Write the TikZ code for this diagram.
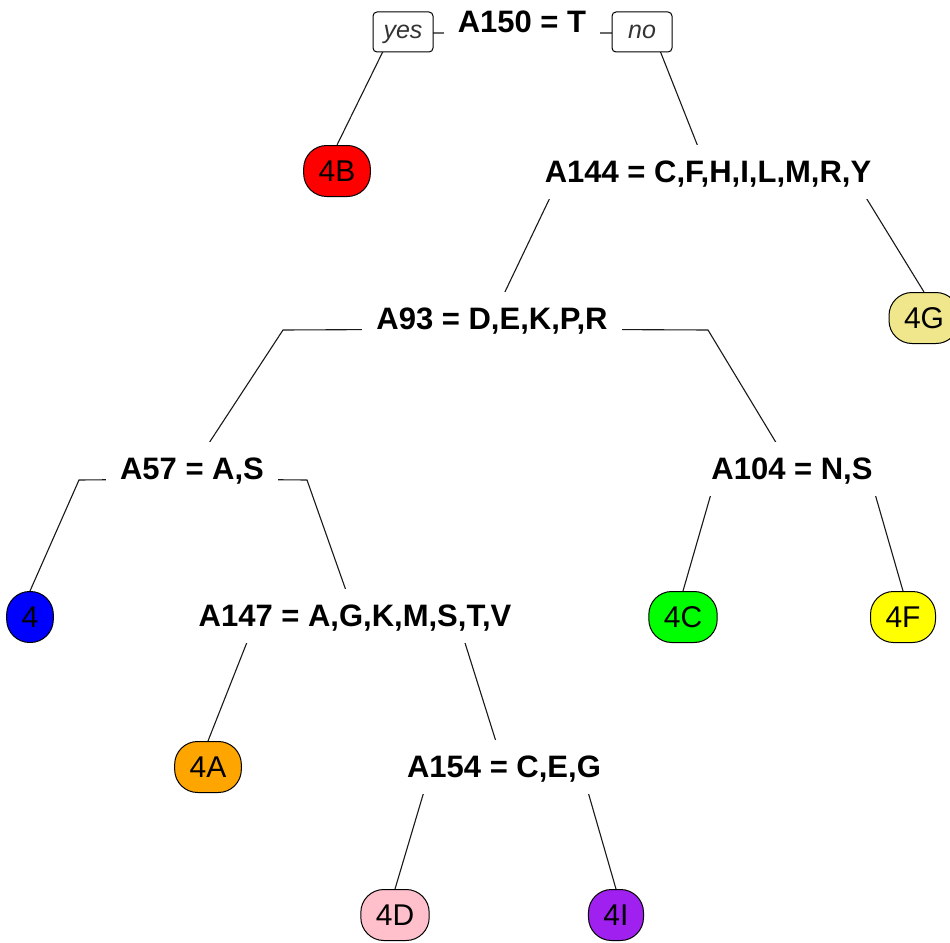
\documentclass[tikz,border=0pt]{standalone}
\usepackage{fontspec}
\setmainfont{Liberation Sans}
\usetikzlibrary{backgrounds}
\definecolor{c4B}{HTML}{FF0000}
\definecolor{c4G}{HTML}{F0E68C}
\definecolor{c4}{HTML}{0000FF}
\definecolor{c4C}{HTML}{00FF00}
\definecolor{c4F}{HTML}{FFFF00}
\definecolor{c4A}{HTML}{FFA500}
\definecolor{c4D}{HTML}{FFC0CB}
\definecolor{c4I}{HTML}{A020F0}
\begin{document}
\begin{tikzpicture}[x=1pt,y=-1pt,
  split/.style={fill=white, font=\fontsize{31}{36}\selectfont\bfseries,
    text height=23pt, text depth=3pt, inner xsep=14pt, inner ysep=14pt, anchor=base},
  leaf/.style={draw=black, line width=1pt, rounded corners=23pt,
    font=\fontsize{30}{36}\selectfont, minimum height=51pt,
    inner xsep=15pt, inner ysep=0pt, text height=21.5pt, text depth=0pt},
  tag/.style={draw=black, fill=white, line width=1pt, rounded corners=4pt,
    minimum width=60pt, minimum height=40pt, inner sep=0pt,
    font=\fontsize{25}{30}\selectfont\itshape, text=black!80,
    text height=17pt, text depth=5pt},
  branch/.style={draw=black!90, line width=1.1pt}]

\useasboundingbox (0,0) rectangle (950,942);
\begin{scope}[on background layer]
  \fill[white] (0,0) rectangle (950,942);
\end{scope}

% split labels
\node[split] (a150) at (522,33)  {A150 = T};
\node[split] (a144) at (708,182) {A144 = C,F,H,I,L,M,R,Y};
\node[split] (a93)  at (492,329) {A93 = D,E,K,P,R};
\node[split] (a57)  at (192,479) {A57 = A,S};
\node[split] (a104) at (792,479) {A104 = N,S};
\node[split] (a147) at (355,626) {A147 = A,G,K,M,S,T,V};
\node[split] (a154) at (504,777) {A154 = C,E,G};

% leaves
\node[leaf, fill=c4B] (l4B) at (337,171) {4B};
\node[leaf, fill=c4G] (l4G) at (924,318) {4G};
\node[leaf, fill=c4]  (l4)  at (30,617)  {4};
\node[leaf, fill=c4C] (l4C) at (683,617) {4C};
\node[leaf, fill=c4F] (l4F) at (903,617) {4F};
\node[leaf, fill=c4A] (l4A) at (208,767) {4A};
\node[leaf, fill=c4D] (l4D) at (395,915) {4D};
\node[leaf, fill=c4I] (l4I) at (616,915) {4I};

% branch bend points
\coordinate (a150L) at (392,33);
\coordinate (a150R) at (653,33);
\coordinate (a144L) at (557,183);
\coordinate (a144R) at (857,183);
\coordinate (a93L)  at (283,330);
\coordinate (a93R)  at (708,330);
\coordinate (a57L)  at (79,480);
\coordinate (a57R)  at (307,480);
\coordinate (a104L) at (715,480);
\coordinate (a104R) at (871,480);
\coordinate (a147L) at (253,627);
\coordinate (a147R) at (460,627);
\coordinate (a154L) at (428,778);
\coordinate (a154R) at (584,778);

% yes / no tags on the root branches
\node[tag] (yes) at (403,32) {yes};
\node[tag] (no)  at (642,32) {no};

\begin{scope}[on background layer]
  \path[branch] (a150.base) -- (a150L) -- (l4B.north);
  \path[branch] (a150.base) -- (a150R) -- (a144.center);
  \path[branch] (a144.base) -- (a144L) -- (a93.center);
  \path[branch] (a144.base) -- (a144R) -- (l4G.north);
  \path[branch] (a93.base) -- (a93L) -- (a57.center);
  \path[branch] (a93.base) -- (a93R) -- (a104.center);
  \path[branch] (a57.base) -- (a57L) -- (l4.north);
  \path[branch] (a57.base) -- (a57R) -- (a147.center);
  \path[branch] (a104.base) -- (a104L) -- (l4C.north);
  \path[branch] (a104.base) -- (a104R) -- (l4F.north);
  \path[branch] (a147.base) -- (a147L) -- (l4A.north);
  \path[branch] (a147.base) -- (a147R) -- (a154.center);
  \path[branch] (a154.base) -- (a154L) -- (l4D.north);
  \path[branch] (a154.base) -- (a154R) -- (l4I.north);
\end{scope}
\end{tikzpicture}
\end{document}
